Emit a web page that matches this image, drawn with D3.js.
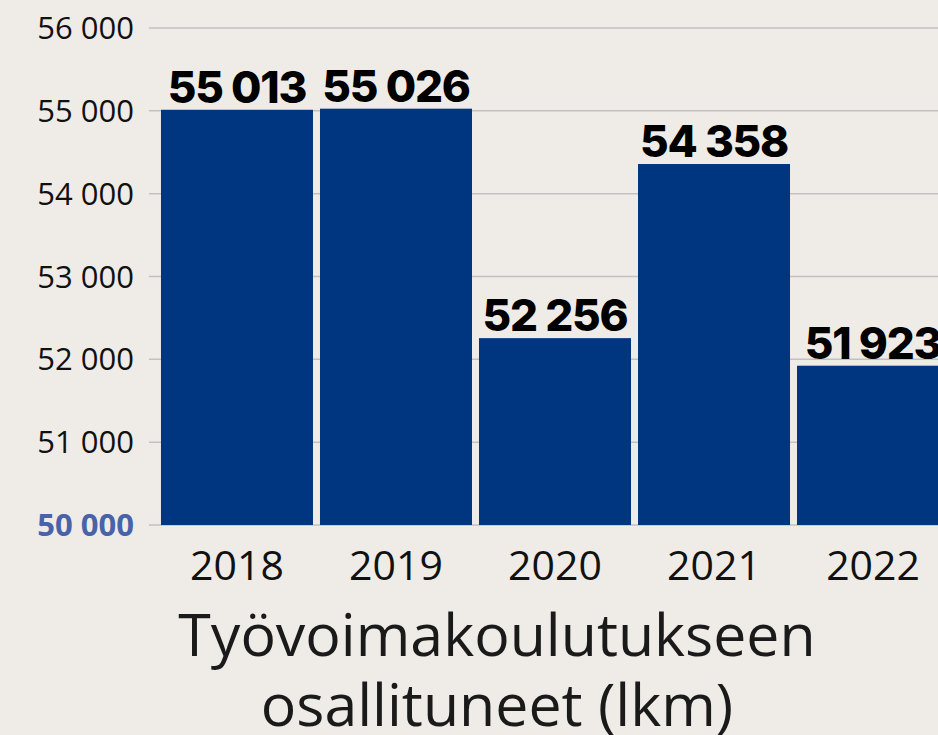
<!DOCTYPE html>
<html>
<head>
<meta charset="utf-8">
<script src="https://cdn.jsdelivr.net/npm/d3@7"></script>
<style>
  html, body { margin: 0; padding: 0; background: #efece8; }
  svg { display: block; }
</style>
</head>
<body>
<div id="chart"></div>
<script>
// data
const years = ["2018", "2019", "2020", "2021", "2022"];
const participants = [55013, 55026, 52256, 54358, 51923];
const yTicks = [50000, 51000, 52000, 53000, 54000, 55000, 56000];
const titleLines = ["Työvoimakoulutukseen", "osallituneet (lkm)"];

const width = 938;
const height = 735;

const fi = d3.formatLocale({ decimal: ",", thousands: " ", grouping: [3], currency: ["", " €"] });
const fmt = fi.format(",d");

const svg = d3.select("#chart")
    .append("svg")
    .attr("width", width)
    .attr("height", height);

svg.append("rect").attr("width", width).attr("height", height).attr("fill", "#efece8");

const y = d3.scaleLinear()
    .domain([50000, 56000])
    .range([525, 28]);

const x = d3.scaleBand()
    .domain(years)
    .range([150, 960])
    .paddingInner(0.044)
    .paddingOuter(0.069);

// gridlines
svg.append("g")
    .selectAll("line")
    .data(yTicks)
    .enter()
    .append("line")
    .attr("x1", 149)
    .attr("x2", width)
    .attr("y1", d => y(d))
    .attr("y2", d => y(d))
    .attr("stroke", "#c3c1be")
    .attr("stroke-width", 1.5);

// y tick labels
svg.append("g")
    .selectAll("text")
    .data(yTicks)
    .enter()
    .append("text")
    .attr("x", 134)
    .attr("y", d => y(d))
    .attr("dy", "0.36em")
    .attr("text-anchor", "end")
    .attr("font-family", "'Open Sans', 'Noto Sans', sans-serif")
    .attr("font-size", 31)
    .attr("font-weight", d => d === 50000 ? 700 : 400)
    .attr("fill", d => d === 50000 ? "#4863a8" : "#111")
    .text(d => fmt(d));

// bars
svg.append("g")
    .selectAll("rect")
    .data(participants)
    .enter()
    .append("rect")
    .attr("x", (d, i) => x(years[i]))
    .attr("width", x.bandwidth())
    .attr("y", d => y(d))
    .attr("height", d => y(50000) - y(d))
    .attr("fill", "#003680");

// value labels
svg.append("g")
    .selectAll("text")
    .data(participants)
    .enter()
    .append("text")
    .attr("x", (d, i) => x(years[i]) + x.bandwidth() / 2)
    .attr("y", d => y(d) - 7)
    .attr("text-anchor", "middle")
    .attr("font-family", "Inter, 'DejaVu Sans', sans-serif")
    .attr("font-size", 44)
    .attr("font-weight", 800)
    .attr("letter-spacing", -1.2)
    .attr("fill", "#000")
    .text(d => fmt(d));

// x labels
svg.append("g")
    .selectAll("text")
    .data(years)
    .enter()
    .append("text")
    .attr("x", d => x(d) + x.bandwidth() / 2)
    .attr("y", 580)
    .attr("text-anchor", "middle")
    .attr("font-family", "'Open Sans', 'Noto Sans', sans-serif")
    .attr("font-size", 41)
    .attr("fill", "#111")
    .text(d => d);

// title
svg.append("g")
    .selectAll("text")
    .data(titleLines)
    .enter()
    .append("text")
    .attr("x", 497)
    .attr("y", (d, i) => 656 + i * 70)
    .attr("text-anchor", "middle")
    .attr("font-family", "'Open Sans', 'Noto Sans', sans-serif")
    .attr("font-size", 59)
    .attr("fill", "#1a1a1a")
    .text(d => d);
</script>
</body>
</html>
